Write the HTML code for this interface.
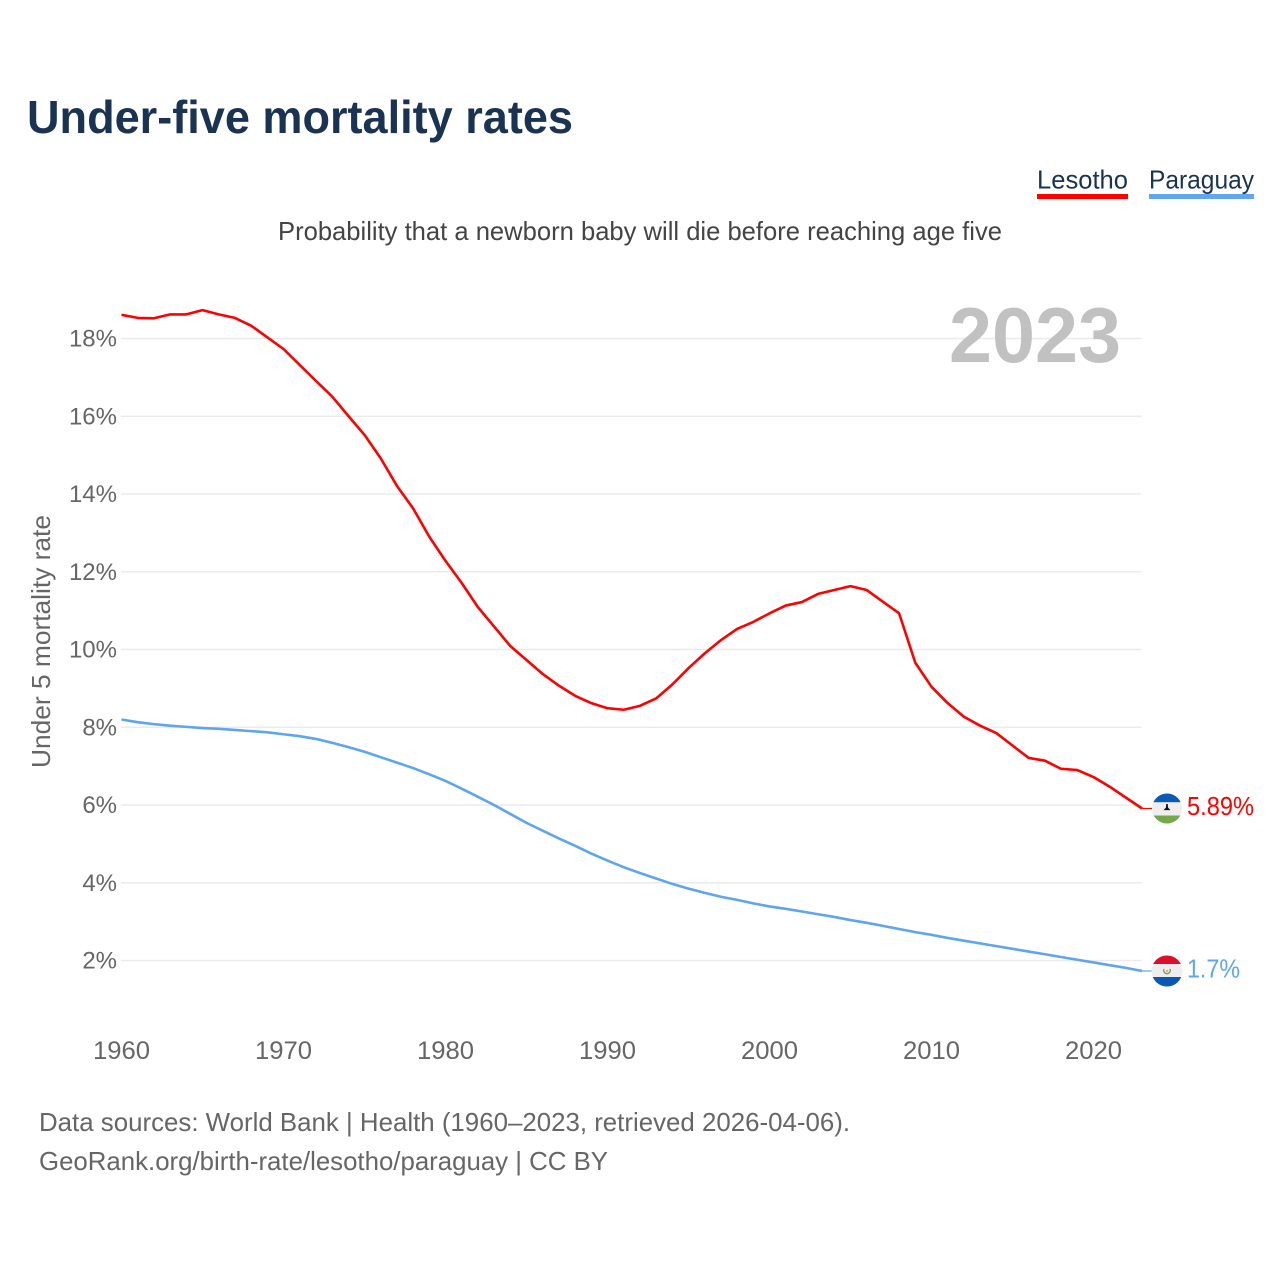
<!DOCTYPE html>
<html lang="en">
<head>
<meta charset="utf-8">
<title>Under-five mortality rates</title>
<style>
html,body{margin:0;padding:0;background:#fff;width:1280px;height:1280px;overflow:hidden}
svg{display:block}
text{font-family:"Liberation Sans",sans-serif}
</style>
</head>
<body>
<svg id="chart" xmlns="http://www.w3.org/2000/svg" width="1280" height="1280" viewBox="0 0 1280 1280">
<rect x="0" y="0" width="1280" height="1280" fill="#fff"/>
<text x="27" y="133" font-size="46" font-weight="700" fill="#1a3352" textLength="546" lengthAdjust="spacingAndGlyphs">Under-five mortality rates</text>
<g>
<g>
<text x="1037" y="188.5" font-size="26" fill="#1a3352" textLength="91" lengthAdjust="spacingAndGlyphs">Lesotho</text>
<rect x="1037" y="194" width="91" height="5" fill="#ff0000"/>
</g>
<g>
<text x="1149" y="188.5" font-size="26" fill="#1a3352" textLength="105" lengthAdjust="spacingAndGlyphs">Paraguay</text>
<rect x="1149" y="194" width="105" height="5" fill="#62a6ee"/>
</g>
</g>
<text x="278" y="240" font-size="26" fill="#444" textLength="724" lengthAdjust="spacingAndGlyphs">Probability that a newborn baby will die before reaching age five</text>
<g id="grid"></g>
<text x="949" y="362" font-size="78" font-weight="700" fill="#c1c1c1" textLength="172" lengthAdjust="spacingAndGlyphs">2023</text>
<g id="yticks"></g>
<g id="xticks"></g>
<text transform="translate(50,768) rotate(-90)" x="0" y="0" font-size="26" fill="#666" textLength="253" lengthAdjust="spacingAndGlyphs">Under 5 mortality rate</text>
<g id="series"></g>
<g id="flag-lesotho">
<clipPath id="clip-ls"><circle cx="0" cy="0" r="15"/></clipPath>
<g clip-path="url(#clip-ls)">
<rect x="-15" y="-16" width="30" height="32" fill="#eeeeee"/>
<rect x="-15" y="-16" width="30" height="9.7" fill="#0b5ab6"/>
<rect x="-15" y="7" width="30" height="9" fill="#75a84b"/>
<path d="M-0.8 -4.5 L0.8 -4.5 L1 -1 L3.5 1.6 L-3.5 1.6 L-1 -1 Z" fill="#111"/>
</g>
</g>
<g id="flag-paraguay">
<clipPath id="clip-py"><circle cx="0" cy="0" r="15.5"/></clipPath>
<g clip-path="url(#clip-py)">
<rect x="-16" y="-16" width="32" height="32" fill="#eeeeee"/>
<rect x="-16" y="-16" width="32" height="9" fill="#dc0f2e"/>
<rect x="-16" y="6" width="32" height="10" fill="#0b57b5"/>
<path d="M-3 -2 A3.3 3.3 0 1 0 3 -2" fill="none" stroke="#7d9c5a" stroke-width="1.3"/>
<circle cx="0" cy="0" r="1" fill="#c9a74a"/>
</g>
</g>
<g id="endlabels"></g>
<text x="39" y="1131" font-size="26" fill="#666" textLength="811" lengthAdjust="spacingAndGlyphs">Data sources: World Bank | Health (1960–2023, retrieved 2026-04-06).</text>
<text x="39" y="1170" font-size="26" fill="#666" textLength="569" lengthAdjust="spacingAndGlyphs">GeoRank.org/birth-rate/lesotho/paraguay | CC BY</text>
</svg>
<script>
const startYear = 1960;
const lesothoValues = [18.61,18.53,18.52,18.62,18.62,18.73,18.62,18.53,18.33,18.03,17.73,17.32,16.91,16.51,16.01,15.52,14.92,14.21,13.63,12.90,12.28,11.71,11.09,10.59,10.09,9.73,9.37,9.07,8.81,8.62,8.49,8.45,8.55,8.74,9.10,9.52,9.90,10.24,10.53,10.71,10.93,11.13,11.22,11.43,11.53,11.63,11.53,11.23,10.93,9.66,9.04,8.62,8.27,8.04,7.85,7.53,7.21,7.14,6.93,6.90,6.72,6.47,6.19,5.91];
const paraguayValues = [8.20,8.13,8.08,8.04,8.01,7.98,7.96,7.93,7.90,7.87,7.82,7.77,7.70,7.60,7.49,7.37,7.23,7.09,6.95,6.79,6.62,6.42,6.21,6.00,5.77,5.54,5.34,5.14,4.95,4.75,4.57,4.40,4.25,4.11,3.97,3.85,3.74,3.64,3.56,3.47,3.39,3.33,3.26,3.19,3.12,3.04,2.97,2.89,2.81,2.73,2.66,2.58,2.51,2.44,2.37,2.30,2.23,2.16,2.09,2.02,1.95,1.88,1.81,1.73];
const yTickValues = [2,4,6,8,10,12,14,16,18];
const xTickValues = [1960,1970,1980,1990,2000,2010,2020];
const endLabelTexts = ["5.89%","1.7%"];

const NS = "http://www.w3.org/2000/svg";
function xScale(year){ return 121.5 + (year - 1960) * 16.2; }
function yScale(v){ return 960.5 - (v - 2) * 38.875; }
function make(tag, attrs, parent, text){
  const el = document.createElementNS(NS, tag);
  for (const k in attrs) el.setAttribute(k, attrs[k]);
  if (text !== undefined) el.textContent = text;
  parent.appendChild(el);
  return el;
}

const gridG = document.getElementById("grid");
const yG = document.getElementById("yticks");
yTickValues.forEach(function(v){
  const line = make("line", {x1:121, x2:1141.5, y1:yScale(v), y2:yScale(v), stroke:"#ebebeb", "stroke-width":1.5}, gridG);
  
  
  const label = make("text", {x:117, y:yScale(v)+8, "text-anchor":"end", "font-size":24, fill:"#666"}, yG, v + "%");
  
  
});

const xG = document.getElementById("xticks");
xTickValues.forEach(function(y){
  const label = make("text", {x:xScale(y), y:1059, "text-anchor":"middle", "font-size":25, fill:"#666", textLength:57, lengthAdjust:"spacingAndGlyphs"}, xG, String(y));
  
  
});

function pointsFor(values){
  return values.map(function(v, i){ return xScale(startYear + i).toFixed(2) + "," + yScale(v).toFixed(2); }).join(" ");
}
const seriesG = document.getElementById("series");

const lsLine = make("polyline", {points:pointsFor(lesothoValues), fill:"none", stroke:"#ff0000", "stroke-width":2.6, "stroke-linejoin":"round"}, seriesG);



const pyLine = make("polyline", {points:pointsFor(paraguayValues), fill:"none", stroke:"#5fa5ee", "stroke-width":2.6, "stroke-linejoin":"round"}, seriesG);



const lastYear = startYear + lesothoValues.length - 1;
const lsEnd = yScale(lesothoValues[lesothoValues.length - 1]);
const pyEnd = yScale(paraguayValues[paraguayValues.length - 1]);

const lsConn = make("line", {x1:xScale(lastYear), x2:1152, y1:lsEnd, y2:lsEnd, stroke:"#ff0000", "stroke-width":1.2}, seriesG);



const pyConn = make("line", {x1:xScale(lastYear), x2:1152, y1:pyEnd, y2:pyEnd, stroke:"#5fa5ee", "stroke-width":1.2}, seriesG);



document.getElementById("flag-lesotho").setAttribute("transform", "translate(1167," + lsEnd + ")");
document.getElementById("flag-paraguay").setAttribute("transform", "translate(1167," + pyEnd + ")");

const endG = document.getElementById("endlabels");
const lsLabel = make("text", {x:1187, y:lsEnd+6.5, "font-size":26, fill:"#ff0000", textLength:67, lengthAdjust:"spacingAndGlyphs"}, endG, endLabelTexts[0]);



const pyLabel = make("text", {x:1187, y:pyEnd+6.5, "font-size":26, fill:"#5fa5ee", textLength:53, lengthAdjust:"spacingAndGlyphs"}, endG, endLabelTexts[1]);


</script>
</body>
</html>
